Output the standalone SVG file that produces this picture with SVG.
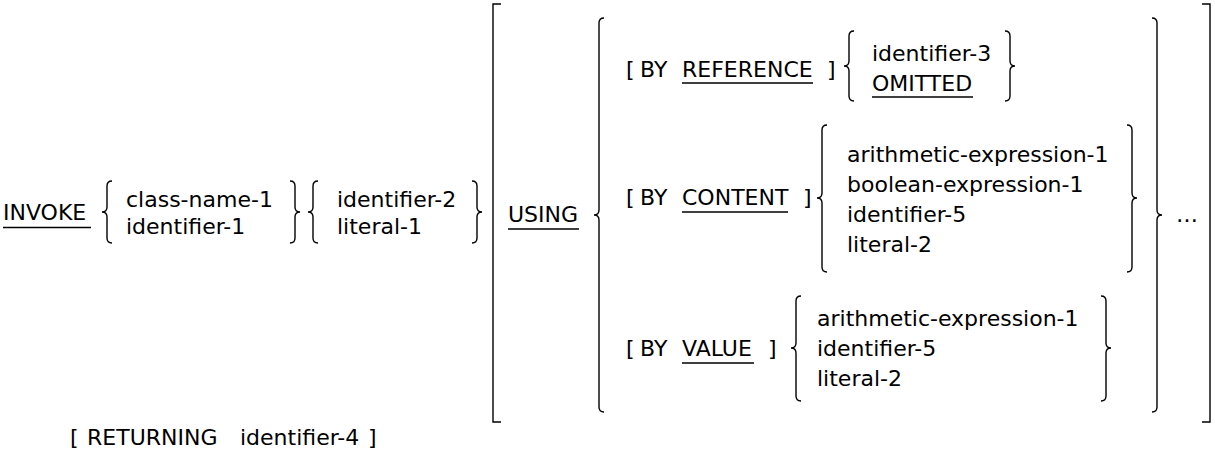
<svg xmlns="http://www.w3.org/2000/svg" width="1215" height="462" viewBox="0 0 1215 462">
<style>
text{font-family:"DejaVu Sans",Verdana,sans-serif;font-size:22px;fill:#000}
.b{fill:none;stroke:#000;stroke-width:1.4}
.u{stroke:#000;stroke-width:1.4}
</style>
<rect width="1215" height="462" fill="#fff"/>
<g id="invoke">
<text x="3" y="220">INVOKE</text>
<line class="u" x1="3" y1="227.5" x2="91" y2="227.5"/>
</g>
<g id="class-choice">
<path class="b" d="M112,181 Q107,181 107,186 V207 Q107,212 102,212 Q107,212 107,217 V238 Q107,243 112,243"/>
<text x="126" y="207">class-name-1</text>
<text x="126" y="234">identifier-1</text>
<path class="b" d="M290,181 Q295,181 295,186 V207 Q295,212 300,212 Q295,212 295,217 V238 Q295,243 290,243"/>
</g>
<g id="method-choice">
<path class="b" d="M318,181 Q313,181 313,186 V207 Q313,212 308,212 Q313,212 313,217 V238 Q313,243 318,243"/>
<text x="337" y="207">identifier-2</text>
<text x="337" y="234">literal-1</text>
<path class="b" d="M472,181 Q477,181 477,186 V207 Q477,212 482,212 Q477,212 477,217 V238 Q477,243 472,243"/>
</g>
<g id="using-clause">
<path class="b" d="M501,4 H493 V422 H501"/>
<text x="508" y="222">USING</text>
<line class="u" x1="508" y1="229" x2="579" y2="229"/>
<path class="b" d="M604,18 Q599,18 599,23 V210 Q599,215 594,215 Q599,215 599,220 V407 Q599,412 604,412"/>
<path class="b" d="M1152,18 Q1157,18 1157,23 V210 Q1157,215 1162,215 Q1157,215 1157,220 V407 Q1157,412 1152,412"/>
<text x="1176" y="222">…</text>
<path class="b" d="M1202,4 H1210 V422 H1202"/>
</g>
<g id="by-reference">
<text x="626" y="77">[</text>
<text x="640" y="77">BY</text>
<text x="682" y="77">REFERENCE</text>
<line class="u" x1="682" y1="83" x2="813" y2="83"/>
<text x="827" y="77">]</text>
<path class="b" d="M854,31 Q849,31 849,36 V61 Q849,66 844,66 Q849,66 849,71 V96 Q849,101 854,101"/>
<text x="872" y="61">identifier-3</text>
<text x="872" y="91">OMITTED</text>
<line class="u" x1="872" y1="97" x2="973" y2="97"/>
<path class="b" d="M1005,31 Q1010,31 1010,36 V61 Q1010,66 1015,66 Q1010,66 1010,71 V96 Q1010,101 1005,101"/>
</g>
<g id="by-content">
<text x="626" y="205">[</text>
<text x="640" y="205">BY</text>
<text x="682" y="205">CONTENT</text>
<line class="u" x1="682" y1="212" x2="788" y2="212"/>
<text x="803" y="205">]</text>
<path class="b" d="M827,125 Q822,125 822,130 V193 Q822,198 817,198 Q822,198 822,203 V267 Q822,272 827,272"/>
<text x="847" y="162">arithmetic-expression-1</text>
<text x="847" y="192">boolean-expression-1</text>
<text x="847" y="222">identifier-5</text>
<text x="847" y="252">literal-2</text>
<path class="b" d="M1127,125 Q1132,125 1132,130 V193 Q1132,198 1137,198 Q1132,198 1132,203 V267 Q1132,272 1127,272"/>
</g>
<g id="by-value">
<text x="626" y="356">[</text>
<text x="640" y="356">BY</text>
<text x="682" y="356">VALUE</text>
<line class="u" x1="682" y1="363" x2="754" y2="363"/>
<text x="768" y="356">]</text>
<path class="b" d="M801,296 Q796,296 796,301 V343 Q796,348 791,348 Q796,348 796,353 V396 Q796,401 801,401"/>
<text x="817" y="326">arithmetic-expression-1</text>
<text x="817" y="356">identifier-5</text>
<text x="817" y="386">literal-2</text>
<path class="b" d="M1101,296 Q1106,296 1106,301 V343 Q1106,348 1111,348 Q1106,348 1106,353 V396 Q1106,401 1101,401"/>
</g>
<g id="returning">
<text x="70" y="445">[</text>
<text x="87" y="445">RETURNING</text>
<text x="240" y="445">identifier-4</text>
<text x="368" y="445">]</text>
</g>
<g id="connectors"></g>
</svg>
